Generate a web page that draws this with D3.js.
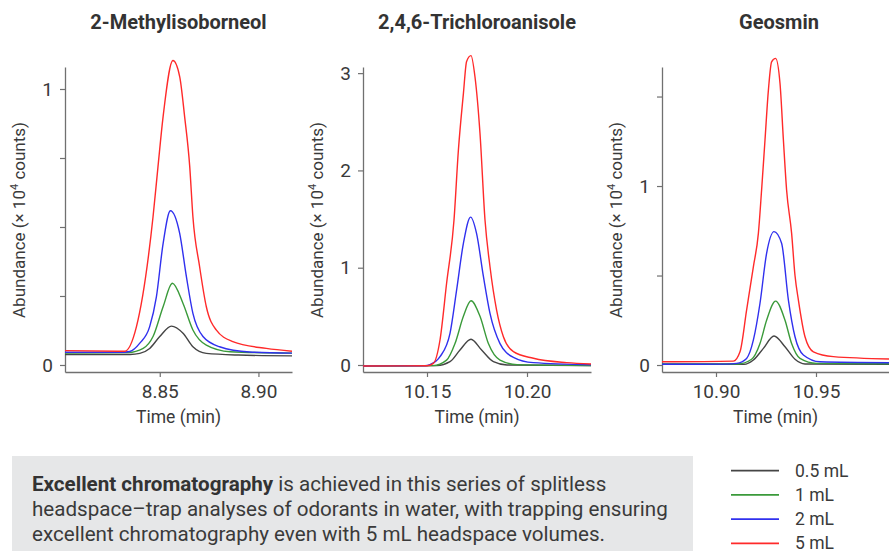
<!DOCTYPE html>
<html>
<head>
<meta charset="utf-8">
<script src="https://cdn.jsdelivr.net/npm/d3@7"></script>
<style>
  body { margin: 0; background: #fff; }
  svg { display: block; font-family: Roboto, "Liberation Sans", sans-serif; }
</style>
</head>
<body>
<script>
// headspace volumes (legend order)
const volumes = ['0.5 mL', '1 mL', '2 mL', '5 mL'];
const colors = ['#454545', '#3a9a3a', '#3030ee', '#ff2a2a'];

// 2-Methylisoborneol: [time (min), abundance x10^4]
const mib05 = [[8.802,0.038],[8.835,0.038],[8.8399,0.042],[8.8449,0.06],[8.85,0.103],[8.8559,0.141],[8.8618,0.115],[8.8668,0.066],[8.8736,0.042],[8.89,0.036],[8.917,0.033]];
const mib1 = [[8.802,0.043],[8.834,0.045],[8.8416,0.06],[8.8466,0.103],[8.8517,0.211],[8.8564,0.296],[8.8618,0.223],[8.8668,0.127],[8.8736,0.072],[8.8856,0.048],[8.917,0.043]];
const mib2 = [[8.802,0.046],[8.83,0.046],[8.8348,0.049],[8.8399,0.079],[8.8449,0.139],[8.8483,0.247],[8.8517,0.44],[8.8554,0.559],[8.8601,0.477],[8.8635,0.32],[8.8668,0.187],[8.8719,0.103],[8.8803,0.066],[8.8955,0.047],[8.917,0.043]];
const mib5 = [[8.802,0.052],[8.8323,0.05],[8.8382,0.139],[8.8466,0.537],[8.8491,0.718],[8.8517,0.90],[8.8567,1.103],[8.8601,1.045],[8.8626,0.90],[8.8652,0.718],[8.8668,0.537],[8.8702,0.356],[8.8736,0.211],[8.8786,0.127],[8.887,0.085],[8.904,0.06],[8.917,0.05]];

// 2,4,6-Trichloroanisole
const tca05 = [[10.118,-0.01],[10.155,-0.006],[10.1615,0.034],[10.1665,0.154],[10.172,0.264],[10.1773,0.154],[10.1832,0.034],[10.19,0.0],[10.232,-0.005]];
const tca1 = [[10.118,-0.01],[10.153,-0.006],[10.1598,0.05],[10.164,0.22],[10.1682,0.50],[10.172,0.66],[10.1765,0.50],[10.1807,0.22],[10.1865,0.05],[10.195,0.004],[10.232,-0.005]];
const tca2 = [[10.118,-0.01],[10.149,-0.008],[10.1515,0.004],[10.1565,0.085],[10.1615,0.326],[10.1648,0.77],[10.1682,1.25],[10.1718,1.52],[10.1748,1.35],[10.1782,0.91],[10.1815,0.53],[10.1865,0.22],[10.1932,0.079],[10.2032,0.024],[10.232,0.003]];
const tca5 = [[10.118,-0.01],[10.15,-0.008],[10.1532,0.017],[10.1565,0.257],[10.1598,0.84],[10.1635,1.49],[10.1657,2.21],[10.1682,2.79],[10.1698,3.12],[10.172,3.18],[10.174,2.96],[10.1765,2.38],[10.179,1.49],[10.1815,1.01],[10.1848,0.565],[10.1882,0.29],[10.1932,0.137],[10.2032,0.069],[10.2198,0.024],[10.232,0.01]];

// Geosmin
const geo05 = [[10.873,0.004],[10.914,0.004],[10.9187,0.028],[10.9237,0.093],[10.929,0.162],[10.9345,0.102],[10.9395,0.032],[10.9445,0.006],[10.9865,0.004]];
const geo1 = [[10.873,0.006],[10.911,0.006],[10.9178,0.032],[10.922,0.12],[10.9253,0.25],[10.9298,0.357],[10.9345,0.25],[10.9378,0.12],[10.942,0.037],[10.9503,0.009],[10.9865,0.007]];
const geo2 = [[10.873,0.004],[10.905,0.005],[10.9103,0.009],[10.9153,0.037],[10.9187,0.14],[10.922,0.345],[10.9253,0.624],[10.929,0.745],[10.9328,0.68],[10.9362,0.363],[10.9395,0.158],[10.9437,0.056],[10.952,0.018],[10.9865,0.013]];
const geo5 = [[10.873,0.018],[10.9087,0.022],[10.912,0.074],[10.9153,0.307],[10.9187,0.55],[10.9212,0.737],[10.9228,0.978],[10.9245,1.257],[10.9262,1.536],[10.9278,1.694],[10.9298,1.713],[10.932,1.574],[10.9337,1.257],[10.9353,0.978],[10.9378,0.737],[10.9395,0.50],[10.9412,0.363],[10.9445,0.158],[10.9487,0.074],[10.9587,0.047],[10.9865,0.034]];

const titles = ['2-Methylisoborneol', '2,4,6-Trichloroanisole', 'Geosmin'];
const xDomains = [[8.802, 8.917], [10.118, 10.232], [10.873, 10.9865]];
const yDomains = [[-0.0254, 1.0797], [-0.072, 3.063], [-0.039, 1.665]];
const xTicks = [[8.85, 8.90], [10.15, 10.20], [10.90, 10.95]];
const yTicks = [[0, 0.25, 0.5, 0.75, 1], [0, 1, 2, 3], [0, 0.5, 1, 1.5]];
const seriesSets = [[mib05, mib1, mib2, mib5], [tca05, tca1, tca2, tca5], [geo05, geo1, geo2, geo5]];

const caption = [
  [['Excellent chromatography', true], [' is achieved in this series of splitless', false]],
  [['headspace\u2013trap analyses of odorants in water, with trapping ensuring', false]],
  [['excellent chromatography even with 5 mL headspace volumes.', false]]
];

const W = 889, H = 551;
const svg = d3.select('body').append('svg')
  .attr('width', W)
  .attr('height', H);

// panel placement
const panels = [
  { left: 65, right: 292, titleX: 178.5 },
  { left: 363, right: 591, titleX: 477 },
  { left: 662, right: 889, titleX: 779 }
];
const plotTop = 67, plotBottom = 372;

panels.forEach((p, i) => {
  const x = d3.scaleLinear().domain(xDomains[i]).range([p.left, p.right]);
  const y = d3.scaleLinear().domain(yDomains[i]).range([plotBottom, plotTop]);

  const line = d3.line()
    .x(d => x(d[0]))
    .y(d => y(d[1]))
    .curve(d3.curveMonotoneX);

  const g = svg.append('g');

  // title
  g.append('text')
    .attr('x', p.titleX)
    .attr('y', 28.5)
    .attr('text-anchor', 'middle')
    .style('font-size', '20px')
    .style('font-weight', 'bold')
    .style('fill', '#333')
    .text(titles[i]);

  // x axis
  const xa = g.append('g')
    .attr('transform', `translate(0,${plotBottom})`)
    .call(d3.axisBottom(x).tickValues(xTicks[i]).tickFormat(d3.format('.2f')).tickSize(5).tickSizeOuter(0).tickPadding(8));
  // y axis
  const ya = g.append('g')
    .attr('transform', `translate(${p.left},0)`)
    .call(d3.axisLeft(y).tickValues(yTicks[i])
      .tickFormat(d => Number.isInteger(d) ? d : '')
      .tickSize(5).tickSizeOuter(0).tickPadding(7));

  [xa, ya].forEach(a => {
    a.select('.domain').attr('stroke', '#707070').attr('stroke-width', 1.3);
    a.selectAll('.tick line').attr('stroke', '#707070').attr('stroke-width', 1.2);
    a.selectAll('.tick text').style('font-size', '19px').style('fill', '#3a3a3a').style('font-family', 'Roboto, sans-serif');
  });

  // axis titles
  g.append('text')
    .attr('x', (p.left + p.right) / 2)
    .attr('y', 423)
    .attr('text-anchor', 'middle')
    .style('font-size', '17.5px')
    .style('fill', '#3a3a3a')
    .text('Time (min)');

  const yl = g.append('text')
    .attr('text-anchor', 'start')
    .style('font-size', '17px')
    .style('fill', '#3a3a3a');
  yl.append('tspan').text('Abundance (\u00d7 10');
  yl.append('tspan').attr('dy', -7).style('font-size', '11px').text('4');
  yl.append('tspan').attr('dy', 7).text(' counts)');
  const len = yl.node().getComputedTextLength();
  yl.attr('transform', `translate(${p.left - 40},${220 + len / 2}) rotate(-90)`);

  // traces
  g.selectAll('path.trace')
    .data(seriesSets[i])
    .enter().append('path')
    .attr('class', 'trace')
    .attr('d', line)
    .attr('fill', 'none')
    .attr('stroke', (d, k) => colors[k])
    .attr('stroke-width', 1.4);
});

// caption box
svg.append('rect')
  .attr('x', 12).attr('y', 456)
  .attr('width', 681).attr('height', 100)
  .attr('fill', '#e6e7e8');

caption.forEach((parts, li) => {
  const t = svg.append('text')
    .attr('x', 32)
    .attr('y', 491 + li * 25)
    .style('font-size', '20.6px')
    .style('fill', '#3a3a3a');
  parts.forEach(([str, bold]) => {
    t.append('tspan')
      .style('font-weight', bold ? 'bold' : 'normal')
      .style('fill', bold ? '#333' : '#3a3a3a')
      .text(str);
  });
});

// legend
const legend = svg.append('g');
volumes.forEach((v, k) => {
  const ly = 470.7 + k * 24.2;
  legend.append('line')
    .attr('x1', 731).attr('x2', 779)
    .attr('y1', ly).attr('y2', ly)
    .attr('stroke', colors[k])
    .attr('stroke-width', 1.8);
  legend.append('text')
    .attr('x', 795).attr('y', ly + 5.8)
    .style('font-size', '17.5px')
    .style('fill', '#3a3a3a')
    .text(v);
});
</script>
</body>
</html>
